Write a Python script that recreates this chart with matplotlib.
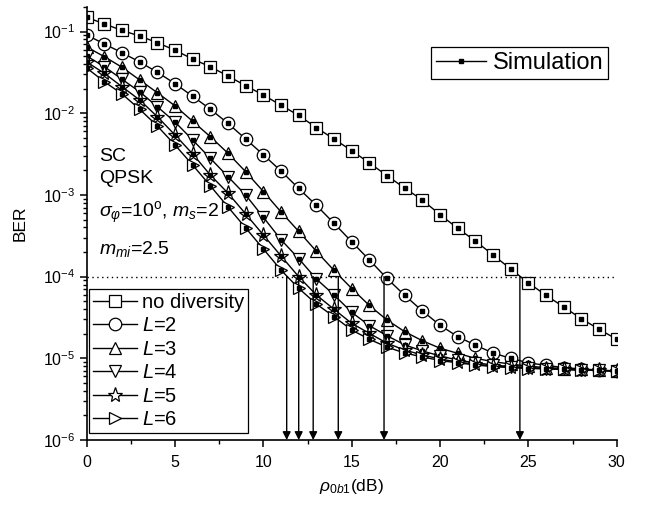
import matplotlib
matplotlib.use('Agg')
import matplotlib.pyplot as plt
from matplotlib.lines import Line2D

plt.rcParams['font.family'] = ['Liberation Sans', 'DejaVu Sans']
plt.rcParams['mathtext.fontset'] = 'custom'
plt.rcParams['mathtext.rm'] = 'Liberation Sans'
plt.rcParams['mathtext.it'] = 'Liberation Sans:italic'
plt.rcParams['mathtext.bf'] = 'Liberation Sans:bold'

# SNR axis (dB)
snr = list(range(0, 31))

ber_nodiv = [0.149, 0.124, 0.103, 0.088, 0.073, 0.059, 0.046, 0.037, 0.0285, 0.0217,
             0.0167, 0.0125, 0.0094, 0.00665, 0.00483, 0.00348, 0.00246, 0.00172, 0.00121,
             0.000866, 0.000573, 0.00039, 0.000273, 0.000184, 0.000124, 8.4e-5, 5.9e-5,
             4.25e-5, 3.05e-5, 2.27e-5, 1.71e-5]
ber_L2 = [0.0906, 0.0704, 0.0550, 0.0424, 0.0317, 0.0230, 0.0161, 0.0112, 0.0075, 0.00483,
          0.0031, 0.00196, 0.00120, 0.000746, 0.000449, 0.000267, 0.000160, 9.5e-5, 5.9e-5,
          3.8e-5, 2.54e-5, 1.84e-5, 1.45e-5, 1.16e-5, 1.0e-5, 8.8e-6, 8.2e-6, 7.7e-6,
          7.4e-6, 7.2e-6, 7.0e-6]
ber_L3 = [0.0646, 0.0492, 0.0365, 0.0255, 0.0178, 0.0123, 0.00796, 0.00516, 0.00323, 0.00192,
          0.00110, 0.000618, 0.000358, 0.000204, 0.000119, 7.15e-5, 4.43e-5, 2.94e-5, 2.12e-5,
          1.64e-5, 1.33e-5, 1.15e-5, 1.0e-5, 9.1e-6, 8.5e-6, 8.0e-6, 7.7e-6, 7.5e-6,
          7.3e-6, 7.1e-6, 7.0e-6]
ber_L4 = [0.0501, 0.0371, 0.0260, 0.0183, 0.0120, 0.0078, 0.0047, 0.0028, 0.00167, 0.000997,
          0.000532, 0.000283, 0.000166, 9.35e-5, 5.96e-5, 3.66e-5, 2.51e-5, 1.89e-5, 1.46e-5,
          1.23e-5, 1.07e-5, 9.5e-6, 8.8e-6, 8.3e-6, 7.9e-6, 7.7e-6, 7.5e-6, 7.3e-6,
          7.2e-6, 7.1e-6, 7.0e-6]
ber_L5 = [0.0423, 0.0308, 0.0211, 0.0145, 0.00906, 0.00541, 0.00317, 0.00175, 0.00105, 0.000584,
          0.000323, 0.000179, 9.97e-5, 5.96e-5, 3.98e-5, 2.68e-5, 2.02e-5, 1.53e-5, 1.26e-5,
          1.10e-5, 9.8e-6, 9.0e-6, 8.5e-6, 8.05e-6, 7.85e-6, 7.6e-6, 7.45e-6, 7.35e-6,
          7.2e-6, 7.1e-6, 7.0e-6]
ber_L6 = [0.0357, 0.0243, 0.0172, 0.01116, 0.00697, 0.00408, 0.00232, 0.00129, 0.000711, 0.000394,
          0.000218, 0.000120, 7.19e-5, 4.62e-5, 3.23e-5, 2.22e-5, 1.71e-5, 1.37e-5, 1.16e-5,
          1.04e-5, 9.4e-6, 8.8e-6, 8.3e-6, 7.9e-6, 7.7e-6, 7.5e-6, 7.45e-6, 7.3e-6,
          7.2e-6, 7.1e-6, 7.0e-6]

curves = [ber_nodiv, ber_L2, ber_L3, ber_L4, ber_L5, ber_L6]
labels = ['no diversity', '$L$=2', '$L$=3', '$L$=4', '$L$=5', '$L$=6']
markers = ['s', 'o', '^', 'v', '*', '>']
msizes = [8, 9, 9, 9, 11, 9]

# SNR needed for BER = 1e-4 (arrows)
target_ber = 1e-4
arrow_x = [11.32, 12.0, 12.82, 14.24, 16.83, 24.52]

fig = plt.figure(figsize=(6.48, 5.05), dpi=100)
ax = fig.add_axes([0.1338, 0.1287, 0.8179, 0.8576])

handles = []
for y, lab, m, ms in zip(curves, labels, markers, msizes):
    h, = ax.plot(snr, y, color='black', linewidth=1.0, marker=m, markersize=ms,
                 markerfacecolor='white', markeredgecolor='black', markeredgewidth=0.9,
                 label=lab)
    handles.append(h)
    ax.plot(snr, y, linestyle='none', marker='s', markersize=3.5,
            color='black')

ax.axhline(target_ber, color='black', linestyle=(0, (1, 2.5)), linewidth=1.0)
for xa in arrow_x:
    ax.annotate('', xy=(xa, 1e-6), xytext=(xa, target_ber),
                arrowprops=dict(arrowstyle='-|>', color='black', lw=1.0,
                                mutation_scale=12, shrinkA=0, shrinkB=0))

ax.set_yscale('log')
ax.set_xlim(0, 30)
ax.set_ylim(1e-6, 0.2)
ax.set_xticks([0, 5, 10, 15, 20, 25, 30])
ax.set_xticks([2.5, 7.5, 12.5, 17.5, 22.5, 27.5], minor=True)
ax.spines['top'].set_visible(False)
ax.spines['right'].set_visible(False)
ax.spines['left'].set_linewidth(1.2)
ax.spines['bottom'].set_linewidth(1.2)
ax.tick_params(axis='both', which='major', direction='out', length=5, width=1.1,
               labelsize=11.5)
ax.tick_params(axis='x', which='major', pad=6)
ax.tick_params(axis='both', which='minor', direction='out', length=3, width=1.0)

ax.set_xlabel(r'$\rho_{0b1}$(dB)', fontsize=12.5, labelpad=5)
ax.set_ylabel('BER', fontsize=12.5, labelpad=11)

ax.text(0.7, 2.6e-3, 'SC', fontsize=14)
ax.text(0.7, 1.4e-3, 'QPSK', fontsize=14)
ax.text(0.7, 5.3e-4, r'$\sigma_{\varphi}$=10$^{\rm o}$, $m_s$=2', fontsize=14)
ax.text(0.7, 1.9e-4, r'$m_{mi}$=2.5', fontsize=14)

leg1 = ax.legend(handles=handles, loc='lower left', bbox_to_anchor=(0.004, 0.016),
                 borderaxespad=0, fontsize=14.5, frameon=True, fancybox=False,
                 edgecolor='black', framealpha=1, handlelength=2.2, handletextpad=0.25,
                 labelspacing=0.22, borderpad=0.2)
leg1.get_frame().set_linewidth(0.9)
ax.add_artist(leg1)

sim = Line2D([], [], color='black', linewidth=1.0, marker='s', markersize=3.5)
leg2 = ax.legend(handles=[sim], labels=['Simulation'], loc='upper right',
                 bbox_to_anchor=(0.984, 0.907), borderaxespad=0, fontsize=17,
                 frameon=True, fancybox=False, edgecolor='black', framealpha=1,
                 handlelength=2.1, handletextpad=0.3, borderpad=0.2)
leg2.get_frame().set_linewidth(0.9)

fig.savefig('out.png', dpi=100)
